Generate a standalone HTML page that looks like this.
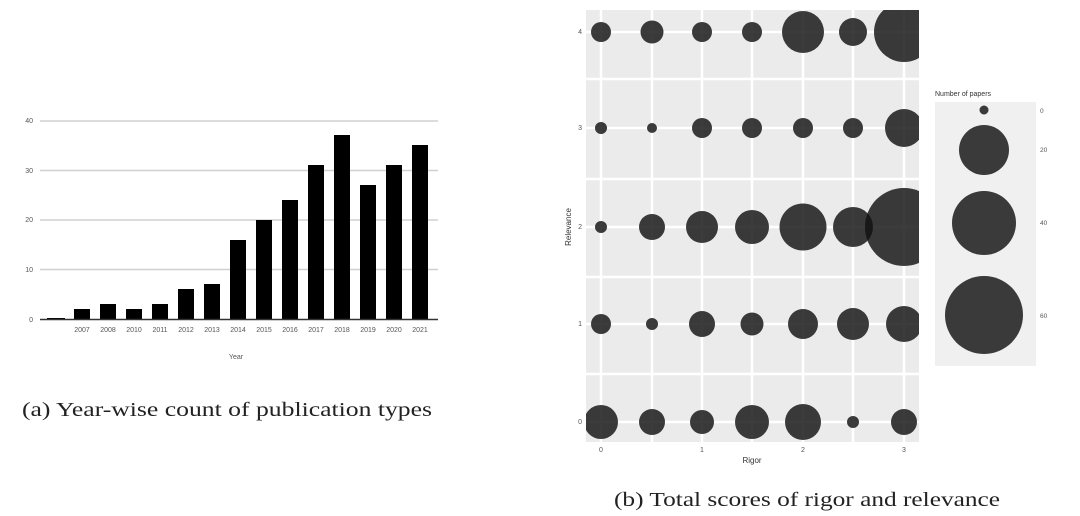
<!DOCTYPE html><html><head><style>body{margin:0;background:#fff}svg{display:block}</style></head><body>
<svg width="1080" height="516" xmlns="http://www.w3.org/2000/svg" font-family="Liberation Sans, sans-serif">
<g stroke="#d0d0d0" stroke-width="1.5">
<line x1="40" x2="438" y1="121" y2="121"/><line x1="40" x2="438" y1="170.5" y2="170.5"/><line x1="40" x2="438" y1="220" y2="220"/><line x1="40" x2="438" y1="269.5" y2="269.5"/></g>
<g fill="#000">
<rect x="47" y="318" width="18" height="1.5"/>
<rect x="74" y="309" width="16" height="10"/><rect x="100" y="304" width="16" height="15"/><rect x="126" y="309" width="16" height="10"/><rect x="152" y="304" width="16" height="15"/><rect x="178" y="289" width="16" height="30"/><rect x="204" y="284" width="16" height="35"/><rect x="230" y="240" width="16" height="79"/><rect x="256" y="220" width="16" height="99"/><rect x="282" y="200" width="16" height="119"/><rect x="308" y="165" width="16" height="154"/><rect x="334" y="135" width="16" height="184"/><rect x="360" y="185" width="16" height="134"/><rect x="386" y="165" width="16" height="154"/><rect x="412" y="145" width="16" height="174"/>
</g>
<line x1="40" x2="438" y1="319.5" y2="319.5" stroke="#333" stroke-width="1.5"/>
<g font-size="7" fill="#555" text-anchor="end"><text x="33" y="123">40</text><text x="33" y="173">30</text><text x="33" y="222">20</text><text x="33" y="272">10</text><text x="33" y="322">0</text></g>
<g font-size="7" fill="#555" text-anchor="middle">
<text x="82" y="332">2007</text><text x="108" y="332">2008</text><text x="134" y="332">2010</text><text x="160" y="332">2011</text><text x="186" y="332">2012</text><text x="212" y="332">2013</text><text x="238" y="332">2014</text><text x="264" y="332">2015</text><text x="290" y="332">2016</text><text x="316" y="332">2017</text><text x="342" y="332">2018</text><text x="368" y="332">2019</text><text x="394" y="332">2020</text><text x="420" y="332">2021</text>
<text x="236" y="359">Year</text></g>
<text x="22" y="416" font-family="Liberation Serif, serif" font-size="20" fill="#222" textLength="410" lengthAdjust="spacingAndGlyphs">(a) Year-wise count of publication types</text>
<defs><clipPath id="c"><rect x="586" y="10" width="333" height="432"/></clipPath></defs>
<rect x="586" y="10" width="333" height="432" fill="#ebebeb"/>
<g stroke="#fff" stroke-width="2.5">
<line x1="586" x2="919" y1="79" y2="79"/><line x1="586" x2="919" y1="179" y2="179"/><line x1="586" x2="919" y1="277" y2="277"/><line x1="586" x2="919" y1="374" y2="374"/>
<line x1="586" x2="919" y1="32" y2="32"/><line x1="586" x2="919" y1="128" y2="128"/><line x1="586" x2="919" y1="227" y2="227"/><line x1="586" x2="919" y1="324" y2="324"/><line x1="586" x2="919" y1="422" y2="422"/>
<line y1="10" y2="442" x1="601" x2="601"/><line y1="10" y2="442" x1="652" x2="652"/><line y1="10" y2="442" x1="702" x2="702"/><line y1="10" y2="442" x1="752" x2="752"/><line y1="10" y2="442" x1="803" x2="803"/><line y1="10" y2="442" x1="853" x2="853"/><line y1="10" y2="442" x1="904" x2="904"/>
</g>
<g clip-path="url(#c)" fill="#111" fill-opacity="0.82">
<circle cx="601" cy="32" r="10"/><circle cx="652" cy="32" r="11.5"/><circle cx="702" cy="32" r="10"/><circle cx="752" cy="32" r="10"/><circle cx="803" cy="32" r="21"/><circle cx="853" cy="32" r="14"/><circle cx="904" cy="32" r="30"/>
<circle cx="601" cy="128" r="6"/><circle cx="652" cy="128" r="5"/><circle cx="702" cy="128" r="10"/><circle cx="752" cy="128" r="10"/><circle cx="803" cy="128" r="10"/><circle cx="853" cy="128" r="10"/><circle cx="904" cy="128" r="19"/>
<circle cx="601" cy="227" r="6"/><circle cx="652" cy="227" r="13"/><circle cx="702" cy="227" r="16"/><circle cx="752" cy="227" r="17"/><circle cx="803" cy="227" r="23.5"/><circle cx="853" cy="227" r="20"/><circle cx="904" cy="227" r="39"/>
<circle cx="601" cy="324" r="10"/><circle cx="652" cy="324" r="6"/><circle cx="702" cy="324" r="13"/><circle cx="752" cy="324" r="11.5"/><circle cx="803" cy="324" r="15"/><circle cx="853" cy="324" r="16"/><circle cx="904" cy="324" r="18"/>
<circle cx="601" cy="422" r="17"/><circle cx="652" cy="422" r="13"/><circle cx="702" cy="422" r="12"/><circle cx="752" cy="422" r="17"/><circle cx="803" cy="422" r="18"/><circle cx="853" cy="422" r="6"/><circle cx="904" cy="422" r="13"/>
</g>
<g font-size="7" fill="#555" text-anchor="end"><text x="582" y="34">4</text><text x="582" y="130">3</text><text x="582" y="229">2</text><text x="582" y="326">1</text><text x="582" y="424">0</text></g>
<g font-size="7" fill="#555" text-anchor="middle"><text x="601" y="452">0</text><text x="702" y="452">1</text><text x="803" y="452">2</text><text x="904" y="452">3</text></g>
<text x="752" y="463" font-size="8" fill="#333" text-anchor="middle">Rigor</text>
<text transform="translate(571,227) rotate(-90)" font-size="8" fill="#333" text-anchor="middle">Relevance</text>
<text x="935" y="96" font-size="7" fill="#333">Number of papers</text>
<rect x="935" y="102" width="101" height="264" fill="#f0f0f0"/>
<g fill="#111" fill-opacity="0.82"><circle cx="984" cy="110" r="4.5"/><circle cx="984" cy="150" r="25"/><circle cx="984" cy="223" r="32"/><circle cx="984" cy="315" r="39"/></g>
<g font-size="6.5" fill="#555"><text x="1040" y="113">0</text><text x="1040" y="152">20</text><text x="1040" y="225">40</text><text x="1040" y="318">60</text></g>
<text x="614" y="506" font-family="Liberation Serif, serif" font-size="20" fill="#222" textLength="386" lengthAdjust="spacingAndGlyphs">(b) Total scores of rigor and relevance</text>
</svg></body></html>
